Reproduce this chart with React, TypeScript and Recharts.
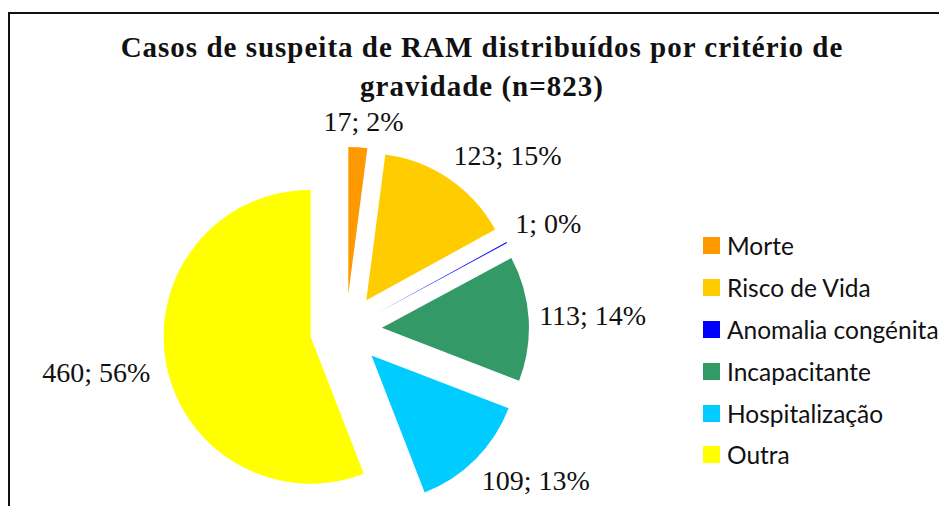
import React from "react"
import { PieChart, Pie, Cell, Sector } from "recharts"

// severity categories, in clockwise order from 12 o'clock
const categories = ["Morte", "Risco de Vida", "Anomalia congénita", "Incapacitante", "Hospitalização", "Outra"]
const cases = [17, 123, 1, 113, 109, 460]
const COLORS = ["#FF9900", "#FFCC00", "#0000FF", "#339966", "#00CCFF", "#FFFF00"]
const titleLines = ["Casos de suspeita de RAM distribuídos por critério de", "gravidade (n=823)"]

const RAD = Math.PI / 180
const EXPLODE = 36
const LABEL_GAP = 13
const LABEL_SIZE = 28

const data = categories.map((name, i) => ({ name, value: cases[i] }))

// pulls every slice out along its bisector
function renderSlice(props: any) {
  const { cx, cy, midAngle } = props
  const dx = EXPLODE * Math.cos(-midAngle * RAD)
  const dy = EXPLODE * Math.sin(-midAngle * RAD)
  return <Sector {...props} cx={cx + dx} cy={cy + dy} stroke="none" />
}

const charWidth = (ch: string) =>
  /[0-9]/.test(ch) ? 0.5 : ch === ";" ? 0.278 : ch === " " ? 0.25 : ch === "%" ? 0.833 : 0.5

const clamp = (v: number) => Math.max(-1, Math.min(1, v))

// "outside end" labels, like Excel does them
function renderLabel(props: any) {
  const { cx, cy, midAngle, outerRadius, value, percent } = props
  const ux = Math.cos(-midAngle * RAD)
  const uy = Math.sin(-midAngle * RAD)
  const r = outerRadius + EXPLODE + LABEL_GAP
  const px = cx + r * ux
  const py = cy + r * uy
  const text = `${value}; ${Math.round(percent * 100)}%`
  const w = text.split("").reduce((s, c) => s + charWidth(c), 0) * LABEL_SIZE
  const h = 25
  const x = px + (clamp(3 * ux) * w) / 2 - 3
  const y = py + (clamp(3 * uy) * h) / 2
  return (
    <text
      x={x}
      y={y}
      textAnchor="middle"
      dominantBaseline="central"
      fontFamily="'Liberation Serif', serif"
      fontSize={LABEL_SIZE}
      fill="#111"
    >
      {text}
    </text>
  )
}

export default function App() {
  return (
    <div style={{ position: "relative", width: 939, height: 498, overflow: "hidden", background: "#fff" }}>
      {/* chart frame, cut by the page edge on the right and bottom */}
      <div
        style={{
          position: "absolute",
          left: 0,
          top: 4,
          width: 980,
          height: 540,
          borderLeft: "2px solid #111",
          borderTop: "2px solid #111",
          boxSizing: "border-box",
        }}
      />

      <div
        style={{
          position: "absolute",
          left: 0,
          top: 20,
          width: 948,
          textAlign: "center",
          fontFamily: "'Liberation Serif', serif",
          fontWeight: "bold",
          fontSize: 29,
          letterSpacing: 1,
          lineHeight: "39px",
          color: "#111",
        }}
      >
        {titleLines[0]}
        <br />
        {titleLines[1]}
      </div>

      <div style={{ position: "absolute", left: 0, top: 0 }}>
        <PieChart width={939} height={498} margin={{ top: 0, right: 0, bottom: 0, left: 0 }}>
          <Pie
            data={data}
            dataKey="value"
            nameKey="name"
            cx={338}
            cy={322}
            outerRadius={147}
            startAngle={90}
            endAngle={-270}
            stroke="none"
            shape={renderSlice}
            activeShape={renderSlice}
            inactiveShape={renderSlice}
            label={renderLabel}
            labelLine={false}
            isAnimationActive={false}
          >
            {data.map((entry, index) => (
              <Cell key={`cell-${index}`} fill={COLORS[index % COLORS.length]} />
            ))}
          </Pie>
        </PieChart>
      </div>

      {/* legend */}
      <div style={{ position: "absolute", left: 695, top: 217 }}>
        {categories.map((name, i) => (
          <div key={name} style={{ display: "flex", alignItems: "center", height: 41.8 }}>
            <div style={{ width: 17, height: 17, background: COLORS[i], marginRight: 7 }} />
            <span style={{ fontFamily: "Lato, sans-serif", fontSize: 24.5, color: "#111" }}>{name}</span>
          </div>
        ))}
      </div>
    </div>
  )
}
